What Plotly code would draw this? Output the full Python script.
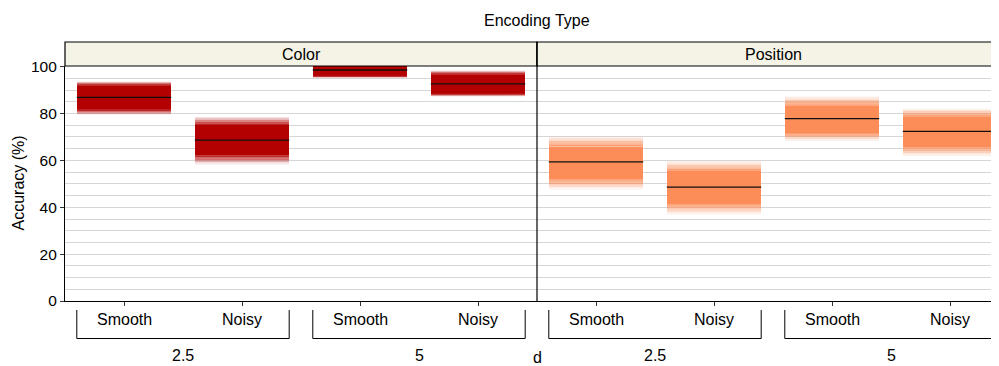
import plotly.graph_objects as go

W, H = 999, 366

# ---------------- data ----------------
panels = ["Color", "Position"]
d_groups = ["2.5", "5"]
noise_levels = ["Smooth", "Noisy"]
panel_colors = {"Color": "#B30000", "Position": "#FC8D59"}

# order: (2.5, Smooth), (2.5, Noisy), (5, Smooth), (5, Noisy)
mean_acc = {"Color": [86.9, 68.7, 98.6, 92.7],
            "Position": [59.4, 48.6, 77.8, 72.4]}
core_lo = {"Color": [82.0, 62.4, 96.3, 88.8],
           "Position": [52.0, 41.3, 71.9, 65.9]}
core_hi = {"Color": [91.6, 75.0, 101.0, 96.3],
           "Position": [65.9, 55.3, 83.3, 78.5]}
outer_lo = {"Color": [79.5, 58.1, 95.4, 87.3],
            "Position": [47.4, 36.8, 68.1, 61.7]}
outer_hi = {"Color": [93.7, 78.8, 103.0, 98.4],
            "Position": [70.5, 60.0, 87.6, 82.3]}

y_ticks = [0, 20, 40, 60, 80, 100]

# ---------------- helpers ----------------
OFF = 8  # page body margin

def px_x(p):
    return (p - OFF) / W

def px_y(p):
    return 1 - (p - OFF) / H

PLOT_L, PLOT_MID, PLOT_R = 65, 537, 999
PLOT_T, PLOT_B = 66, 301
STRIP_T = 42
UNIT = (PLOT_MID - PLOT_L) / 4.0

FONT = "Liberation Sans, Arial, sans-serif"
FS = 16

fig = go.Figure()

cats = [(g, n) for g in d_groups for n in noise_levels]
xpos = [i + 0.5 for i in range(len(cats))]
BW = 0.8
N_FADE = 14

for pi, panel in enumerate(panels):
    xa = "x" if pi == 0 else "x2"
    ya = "y" if pi == 0 else "y2"
    col = panel_colors[panel]
    # fading bands
    for k in range(N_FADE):
        op = 0.55 * ((N_FADE - k) / N_FADE) ** 1.5
        bases, heights = [], []
        for i in range(len(cats)):
            step_hi = (outer_hi[panel][i] - core_hi[panel][i]) / N_FADE
            bases.append(core_hi[panel][i] + k * step_hi)
            heights.append(step_hi)
        fig.add_trace(go.Bar(x=xpos, y=heights, base=bases, width=BW,
                             marker=dict(color=col, line=dict(width=0)),
                             opacity=op, xaxis=xa, yaxis=ya,
                             showlegend=False, hoverinfo="skip"))
        bases, heights = [], []
        for i in range(len(cats)):
            step_lo = (core_lo[panel][i] - outer_lo[panel][i]) / N_FADE
            bases.append(core_lo[panel][i] - (k + 1) * step_lo)
            heights.append(step_lo)
        fig.add_trace(go.Bar(x=xpos, y=heights, base=bases, width=BW,
                             marker=dict(color=col, line=dict(width=0)),
                             opacity=op, xaxis=xa, yaxis=ya,
                             showlegend=False, hoverinfo="skip"))
    # solid core
    fig.add_trace(go.Bar(x=xpos,
                         y=[core_hi[panel][i] - core_lo[panel][i] for i in range(len(cats))],
                         base=core_lo[panel], width=BW,
                         marker=dict(color=col, line=dict(width=0)),
                         xaxis=xa, yaxis=ya, showlegend=False))
    # mean lines
    lx, ly = [], []
    for i in range(len(cats)):
        lx += [xpos[i] - BW / 2, xpos[i] + BW / 2, None]
        ly += [mean_acc[panel][i], mean_acc[panel][i], None]
    fig.add_trace(go.Scatter(x=lx, y=ly, mode="lines",
                             line=dict(color="#111111", width=1.3),
                             xaxis=xa, yaxis=ya, showlegend=False,
                             hoverinfo="skip"))

shapes = []
annotations = []

# strips
for pi, panel in enumerate(panels):
    x0 = PLOT_L if pi == 0 else PLOT_MID
    x1 = PLOT_MID if pi == 0 else PLOT_R + 20
    shapes.append(dict(type="rect", xref="paper", yref="paper",
                       x0=px_x(x0), x1=px_x(x1), y0=px_y(PLOT_T), y1=px_y(STRIP_T),
                       fillcolor="#F5F2E6", line=dict(color="black", width=1.2),
                       layer="above"))
    cx = (x0 + (PLOT_MID if pi == 0 else PLOT_MID + 4 * UNIT)) / 2
    annotations.append(dict(text=panel, x=px_x(cx), y=px_y((STRIP_T + PLOT_T) / 2),
                            xref="paper", yref="paper", showarrow=False,
                            xanchor="center", yanchor="middle",
                            font=dict(size=FS, color="black", family=FONT)))

# panel divider
shapes.append(dict(type="line", xref="paper", yref="paper",
                   x0=px_x(PLOT_MID), x1=px_x(PLOT_MID),
                   y0=px_y(PLOT_B), y1=px_y(STRIP_T),
                   line=dict(color="black", width=1.2), layer="above"))

# nested x labels with brackets
BR_TOP, BR_BOT = 310, 338.5
for pi, panel in enumerate(panels):
    xa = "x" if pi == 0 else "x2"
    for i, (g, n) in enumerate(cats):
        annotations.append(dict(text=n, x=xpos[i], y=px_y(319), xref=xa, yref="paper",
                                showarrow=False, xanchor="center", yanchor="middle",
                                font=dict(size=FS, color="black", family=FONT)))
    for gi, g in enumerate(d_groups):
        gx0 = gi * len(noise_levels) + 0.1
        gx1 = (gi + 1) * len(noise_levels) - 0.1
        shapes.append(dict(type="path", xref=xa, yref="paper",
                           path=f"M {gx0} {px_y(BR_TOP)} L {gx0} {px_y(BR_BOT)} "
                                f"L {gx1} {px_y(BR_BOT)} L {gx1} {px_y(BR_TOP)}",
                           line=dict(color="black", width=1)))
        annotations.append(dict(text=g, x=(gx0 + gx1) / 2, y=px_y(355), xref=xa,
                                yref="paper", showarrow=False, xanchor="center",
                                yanchor="middle",
                                font=dict(size=FS, color="black", family=FONT)))

# titles
annotations.append(dict(text="Encoding Type", x=px_x(537), y=px_y(20), xref="paper",
                        yref="paper", showarrow=False, xanchor="center", yanchor="middle",
                        font=dict(size=FS, color="black", family=FONT)))
annotations.append(dict(text="d", x=px_x(537), y=px_y(368), xref="paper",
                        yref="paper", showarrow=False, xanchor="center", yanchor="bottom",
                        font=dict(size=FS, color="black", family=FONT)))
annotations.append(dict(text="Accuracy (%)", x=px_x(18), y=px_y((PLOT_T + PLOT_B) / 2),
                        xref="paper", yref="paper", showarrow=False, textangle=-90,
                        xanchor="center", yanchor="middle",
                        font=dict(size=FS, color="black", family=FONT)))

y_range = [0, 100.3]
ydom = [px_y(PLOT_B), px_y(PLOT_T)]
grid = dict(showgrid=True, gridcolor="#D6D6D6", gridwidth=1)

fig.update_layout(
    template="none",
    width=W, height=H,
    margin=dict(l=0, r=0, t=0, b=0, pad=0, autoexpand=False),
    paper_bgcolor="white", plot_bgcolor="white",
    barmode="overlay", bargap=0,
    showlegend=False,
    font=dict(family=FONT, size=FS, color="black"),
    shapes=shapes, annotations=annotations,
    xaxis=dict(domain=[px_x(PLOT_L), px_x(PLOT_MID)], range=[0, 4],
               tickvals=xpos, showticklabels=False, ticks="outside", ticklen=4,
               tickcolor="#333333", showline=True, linecolor="black", linewidth=1.2,
               showgrid=False, zeroline=False, anchor="y", fixedrange=True,
               automargin=False),
    xaxis2=dict(domain=[px_x(PLOT_MID), 1], range=[0, (PLOT_R + OFF - PLOT_MID) / UNIT],
                tickvals=xpos, showticklabels=False, ticks="outside", ticklen=4,
                tickcolor="#333333", showline=True, linecolor="black", linewidth=1.2,
                showgrid=False, zeroline=False, anchor="y2", fixedrange=True,
                automargin=False),
    yaxis=dict(domain=ydom, range=y_range, tickvals=y_ticks, ticks="outside",
               ticklen=4, tickcolor="#333333", showline=True, linecolor="black",
               linewidth=1.2, zeroline=False, anchor="x", automargin=False,
               tickfont=dict(size=15.5, color="black", family=FONT),
               minor=dict(dtick=5, showgrid=True, gridcolor="#D6D6D6", gridwidth=1),
               **grid),
    yaxis2=dict(domain=ydom, range=y_range, tickvals=y_ticks, showticklabels=False,
                ticks="", showline=False, zeroline=False, anchor="x2", matches="y",
                automargin=False,
                minor=dict(dtick=5, showgrid=True, gridcolor="#D6D6D6", gridwidth=1),
                **grid),
)

fig.write_html("out.html")
